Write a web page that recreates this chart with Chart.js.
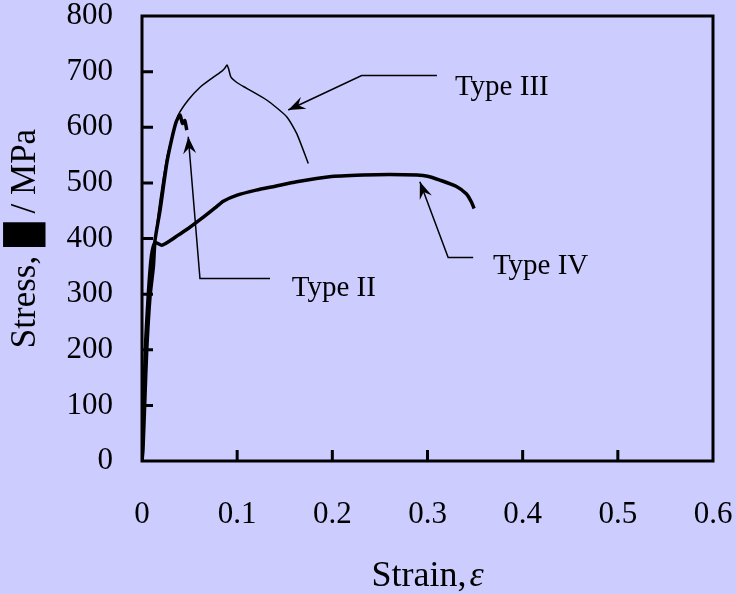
<!DOCTYPE html>
<html>
<head>
<meta charset="utf-8">
<script src="https://cdn.jsdelivr.net/npm/chart.js@4.4.0/dist/chart.umd.min.js"></script>
<style>
  body { margin: 0; background: #ccccff; }
  canvas { display: block; }
</style>
</head>
<body>
<canvas id="stressStrain" width="736" height="594"></canvas>
<script>
// strain / stress values
const type2Strain = [0, 0.001, 0.003, 0.005, 0.0084, 0.012, 0.0137, 0.019, 0.026, 0.031, 0.036, 0.040, 0.0425, 0.045, 0.047];
const type2Stress = [0, 20, 110, 200, 295, 350, 397, 451, 535, 577, 610, 622, 607, 612, 595];

const type3Strain = [0, 0.001, 0.003, 0.005, 0.0084, 0.012, 0.019, 0.026, 0.031, 0.035, 0.038, 0.0486, 0.061, 0.075, 0.084, 0.087, 0.0893, 0.091, 0.0935, 0.10, 0.11, 0.131, 0.152, 0.1625, 0.1747];
const type3Stress = [0, 20, 110, 200, 298, 370, 470, 545, 580, 605, 622, 649, 672, 690, 701, 706, 712, 705, 690, 680, 670, 649, 619, 589, 535];

const type4Strain = [0, 0.002, 0.004, 0.007, 0.010, 0.0137, 0.0207, 0.0277, 0.038, 0.0486, 0.0627, 0.0767, 0.0854, 0.10, 0.12, 0.14, 0.1625, 0.197, 0.232, 0.26, 0.289, 0.30, 0.313, 0.33, 0.341, 0.346, 0.349];
const type4Stress = [0, 120, 220, 310, 370, 393, 388, 394, 406, 418, 436, 455, 467, 478, 487, 494, 502, 511, 514, 515, 514, 512, 505, 494, 480, 466, 454];

const xTicks = [0, 0.1, 0.2, 0.3, 0.4, 0.5, 0.6];
const yTicks = [0, 100, 200, 300, 400, 500, 600, 700, 800];

// callouts: arrow tip, elbow, end of leader, label anchor (data units)
const calloutNames = ['Type III', 'Type II', 'Type IV'];
const calloutTip = [[0.1537, 631], [0.0486, 583], [0.292, 502]];
const calloutElbow = [[0.2308, 693], [0.0609, 328], [0.3217, 366]];
const calloutEnd = [[0.3099, 693], [0.1345, 328], [0.348, 366]];
const calloutText = [[0.3288, 658], [0.1573, 297], [0.3687, 336]];

const serif = 'Liberation Serif, Times New Roman, serif';

function toPoints(xs, ys) {
    return xs.map((x, i) => ({ x: x, y: ys[i] }));
}

function drawArrowHead(ctx, fromX, fromY, tipX, tipY) {
    const ang = Math.atan2(tipY - fromY, tipX - fromX);
    const len = 17, half = 6.5, notch = 11;
    ctx.save();
    ctx.translate(tipX, tipY);
    ctx.rotate(ang);
    ctx.beginPath();
    ctx.moveTo(0, 0);
    ctx.lineTo(-len, -half);
    ctx.lineTo(-notch, 0);
    ctx.lineTo(-len, half);
    ctx.closePath();
    ctx.fill();
    ctx.restore();
}

// no extra room for overhanging tick labels, the plot box is placed by hand
function fixPadding(s) {
    s.paddingLeft = 0;
    s.paddingRight = 0;
    s.paddingTop = 0;
    s.paddingBottom = 0;
}

const frame = {
    id: 'frame',
    beforeDraw(chart) {
        const ctx = chart.ctx;
        ctx.save();
        ctx.fillStyle = '#ccccff';
        ctx.fillRect(0, 0, chart.width, chart.height);
        ctx.restore();
    },
    afterDraw(chart) {
        const ctx = chart.ctx;
        const a = chart.chartArea;
        const xs = chart.scales.x, ys = chart.scales.y;
        ctx.save();
        ctx.strokeStyle = '#000';
        ctx.fillStyle = '#000';

        // box
        ctx.lineWidth = 3;
        ctx.strokeRect(a.left, a.top, a.right - a.left, a.bottom - a.top);

        // inward ticks
        ctx.beginPath();
        yTicks.slice(1, -1).forEach(v => {
            const py = ys.getPixelForValue(v);
            ctx.moveTo(a.left, py);
            ctx.lineTo(a.left + 11, py);
        });
        xTicks.slice(1, -1).forEach(v => {
            const px = xs.getPixelForValue(v);
            ctx.moveTo(px, a.bottom);
            ctx.lineTo(px, a.bottom - 11);
        });
        ctx.stroke();

        // x title, epsilon in italic
        const t1 = 'Strain,', t2 = '\u03b5';
        ctx.textBaseline = 'alphabetic';
        ctx.textAlign = 'left';
        ctx.font = '36px ' + serif;
        const w1 = ctx.measureText(t1).width;
        ctx.font = 'italic 36px ' + serif;
        const w2 = ctx.measureText(t2).width;
        const x0 = (a.left + a.right) / 2 - (w1 + w2 + 3) / 2;
        ctx.font = '36px ' + serif;
        ctx.fillText(t1, x0, 586);
        ctx.font = 'italic 36px ' + serif;
        ctx.fillText(t2, x0 + w1 + 3, 586);

        // callouts
        ctx.lineWidth = 1.5;
        ctx.font = '29px ' + serif;
        calloutNames.forEach((name, i) => {
            const tx = xs.getPixelForValue(calloutTip[i][0]);
            const ty = ys.getPixelForValue(calloutTip[i][1]);
            const ex = xs.getPixelForValue(calloutElbow[i][0]);
            const ey = ys.getPixelForValue(calloutElbow[i][1]);
            const nx = xs.getPixelForValue(calloutEnd[i][0]);
            const ny = ys.getPixelForValue(calloutEnd[i][1]);
            ctx.beginPath();
            ctx.moveTo(nx, ny);
            ctx.lineTo(ex, ey);
            ctx.lineTo(tx, ty);
            ctx.stroke();
            drawArrowHead(ctx, ex, ey, tx, ty);
            ctx.fillText(name, xs.getPixelForValue(calloutText[i][0]), ys.getPixelForValue(calloutText[i][1]));
        });
        ctx.restore();
    }
};

new Chart(document.getElementById('stressStrain').getContext('2d'), {
    type: 'scatter',
    data: {
        datasets: [{
            label: 'Type II',
            data: toPoints(type2Strain, type2Stress),
            showLine: true,
            borderColor: '#000',
            borderWidth: 3.5,
            pointRadius: 0,
            tension: 0.2
        }, {
            label: 'Type III',
            data: toPoints(type3Strain, type3Stress),
            showLine: true,
            borderColor: '#000',
            borderWidth: 1.5,
            pointRadius: 0,
            tension: 0.2
        }, {
            label: 'Type IV',
            data: toPoints(type4Strain, type4Stress),
            showLine: true,
            borderColor: '#000',
            borderWidth: 3.5,
            pointRadius: 0,
            tension: 0.2
        }]
    },
    options: {
        responsive: false,
        animation: false,
        layout: { padding: { left: 0, top: 16, right: 23, bottom: 0 } },
        plugins: {
            legend: { display: false },
            tooltip: { enabled: false }
        },
        scales: {
            x: {
                type: 'linear',
                min: 0,
                max: 0.6,
                afterFit: s => { s.height = 133; fixPadding(s); },
                afterBuildTicks: s => { s.ticks = xTicks.map(v => ({ value: v })); },
                grid: { display: false, drawTicks: false },
                border: { display: false },
                ticks: {
                    padding: 38,
                    color: '#000',
                    maxRotation: 0,
                    font: { family: serif, size: 31, lineHeight: 1 },
                    callback: v => String(Number(v.toFixed(1)))
                },
                title: { display: false }
            },
            y: {
                min: 0,
                max: 800,
                afterFit: s => { s.width = 142; fixPadding(s); },
                afterBuildTicks: s => { s.ticks = yTicks.map(v => ({ value: v })); },
                grid: { display: false, drawTicks: false },
                border: { display: false },
                ticks: {
                    padding: 29,
                    color: '#000',
                    font: { family: serif, size: 31, lineHeight: 1 }
                },
                title: {
                    display: true,
                    text: 'Stress, \u2588 / MPa',
                    color: '#000',
                    font: { family: serif, size: 35, lineHeight: 1.2 },
                    padding: { top: 5, bottom: 0 }
                }
            }
        }
    },
    plugins: [frame]
});
</script>
</body>
</html>
